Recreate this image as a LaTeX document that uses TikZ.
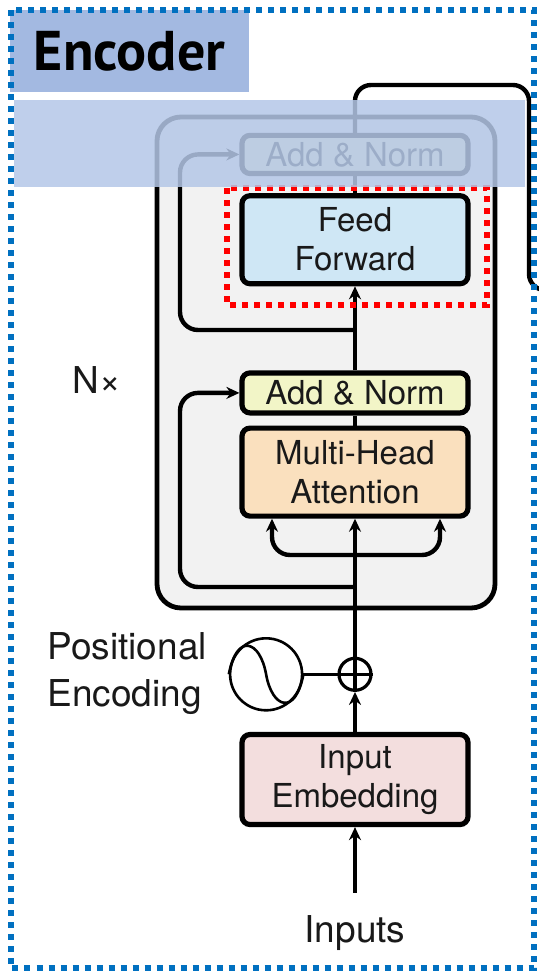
\documentclass[tikz,border=0pt]{standalone}
\usepackage{fontspec}
\setmainfont{TeX Gyre Heros}
\newfontfamily\titlefont{PT Sans}
\usetikzlibrary{positioning}
\usetikzlibrary{arrows.meta}
\definecolor{frameblue}{RGB}{0,112,192}
\definecolor{titleblue}{RGB}{163,185,225}
\definecolor{bandblue}{RGB}{180,199,231}
\definecolor{blockgray}{RGB}{242,242,242}
\definecolor{ffblue}{RGB}{207,231,245}
\definecolor{normyellow}{RGB}{242,245,199}
\definecolor{attorange}{RGB}{250,224,190}
\definecolor{embpink}{RGB}{243,222,222}
\tikzset{>={Stealth[length=6.5pt,width=6pt]}, % arrow heads of the connectors
layer/.style={draw, line width=2.6pt, rounded corners=4pt, minimum width=113pt, align=center, font=\fontsize{16.5}{19.5}\selectfont, text=black!90}, % the sub-layer boxes
wire/.style={line width=2.2pt}, % plain connectors
res/.style={wire, ->, rounded corners=9pt}, % residual and split connectors
lbl/.style={inner sep=0pt, font=\fontsize{18.5}{23.5}\selectfont, text=black!90}, % free labels
dotframe/.style={line width=3pt, dash pattern=on 3pt off 3pt}, % dotted frames
}
\begin{document}
\begin{tikzpicture}[x=0.5pt, y=-0.5pt]
\useasboundingbox (0,0) rectangle (539,976);
\clip (0,0) rectangle (539,976);

% the N x block
\draw[line width=2.4pt, fill=blockgray, rounded corners=12pt] (157,117) rectangle (495,608);

\node[layer, fill=embpink, minimum height=45pt] (emb) at (355,779.5) {Input\\Embedding};
\node[circle, draw, line width=1.6pt, fill=white, minimum size=16pt, inner sep=0pt, above=20pt of emb] (add) {};
\node[circle, draw, line width=1.3pt, minimum size=36pt, inner sep=0pt, left=17pt of add] (sine) {};
\node[layer, fill=attorange, minimum height=44pt, above=69pt of add] (mha) {Multi-Head\\Attention};
\node[layer, fill=normyellow, minimum height=20pt, above=5pt of mha] (addlow) {Add \& Norm};
\node[layer, fill=ffblue, minimum height=44pt, above=42pt of addlow] (ff) {Feed\\Forward};
\node[layer, fill=normyellow, minimum height=17.5pt, above=8.5pt of ff] (addtop) {Add \& Norm};

\node[lbl, anchor=base] (in) at (355,942) {Inputs};
\node[lbl, anchor=west, align=left] (pe) at (47,674) {Positional\\Encoding};
\node[lbl, anchor=base] (nx) at (97,393) {N×};

\coordinate (split) at (355,555);
\coordinate (tap1) at (355,587);
\coordinate (tap2) at (355,330);
\coordinate (out) at (570,290);

\draw[wire, ->] ([yshift=11pt]in.north) -- (emb.south);
\draw[wire, ->] (emb.north) -- (add.south);
\draw[line width=1.6pt] (add.north) -- (add.south) (add.west) -- (add.east);
\draw[line width=1.6pt] (sine.east) -- (add.west);
\draw[line width=1.3pt] (sine.west) .. controls +(8,-42) and +(-6,-34) .. (sine.center)
  .. controls +(6,34) and +(-8,42) .. (sine.east);
\draw[wire, ->] (add.north) -- (mha.south);
\draw[res] (split) -| ([xshift=-41.5pt]mha.south);
\draw[res] (split) -| ([xshift=42.5pt]mha.south);
\draw[res] (tap1) -- (180,587) |- (addlow.west);
\draw[wire] (mha.north) -- (addlow.south);
\draw[wire, ->] (addlow.north) -- (ff.south);
\draw[res] (tap2) -- (180,330) |- (addtop.west);
\draw[wire] (ff.north) -- (addtop.south);
\draw[wire, rounded corners=8pt] (addtop.north) |- (529,85) -- (529,290) -- (out);

% highlight of the feed forward layer
\draw[dotframe, red] (227,188) rectangle (487,305);
% faded band over the top
\fill[bandblue, opacity=0.85] (14,100) rectangle (525,187);

\node[fill=titleblue, minimum width=119.5pt, minimum height=41pt, inner sep=0pt,
  font=\titlefont\bfseries\fontsize{28}{30}\selectfont] (enc) at (129.5,51) {Encoder};
\draw[dotframe, frameblue] (10.5,10) rectangle (534,968);
\end{tikzpicture}
\end{document}
